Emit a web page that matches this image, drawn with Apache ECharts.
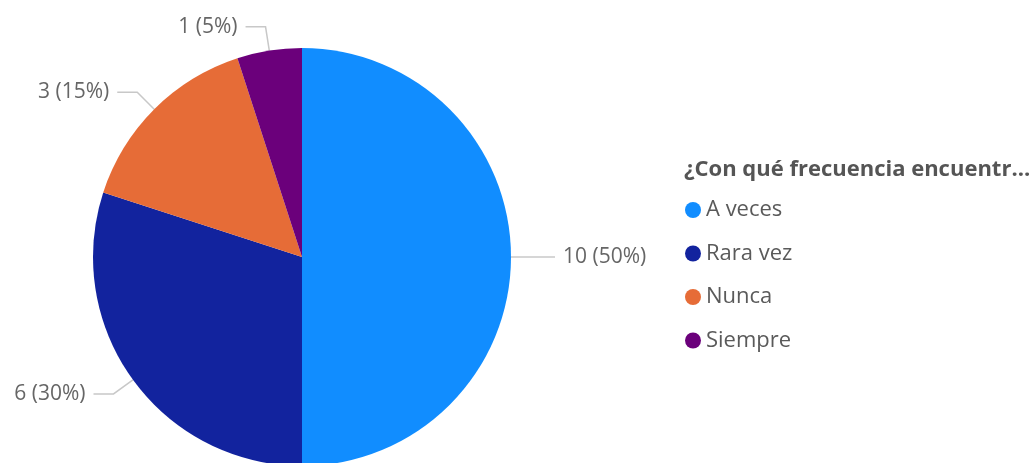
<!DOCTYPE html>
<html>
<head>
<meta charset="utf-8">
<script src="https://cdn.jsdelivr.net/npm/echarts@6/dist/echarts.min.js"></script>
<style>
  html, body { margin: 0; padding: 0; background: #ffffff; }
  #chart { width: 1034px; height: 463px; }
</style>
</head>
<body>
<div id="chart"></div>
<script>
// Survey answers and how many people gave each one
const legendTitle = '¿Con qué frecuencia encuentr...';
const categories = ['A veces', 'Rara vez', 'Nunca', 'Siempre'];
const counts = [10, 6, 3, 1];
const colors = ['#118DFF', '#12239E', '#E66C37', '#6B007B'];

const fontFamily = '"Segoe UI", "Open Sans", "Noto Sans", sans-serif';

const chart = echarts.init(document.getElementById('chart'), null, { renderer: 'canvas' });

chart.setOption({
  animation: false,
  color: colors,
  title: {
    text: legendTitle,
    left: 679,
    top: 154,
    textStyle: {
      fontFamily: fontFamily,
      fontSize: 22,
      fontWeight: 'bold',
      color: '#555555'
    }
  },
  legend: {
    orient: 'vertical',
    left: 685,
    top: 199,
    padding: 0,
    icon: 'circle',
    itemWidth: 16,
    itemHeight: 16,
    itemGap: 21.5,
    data: categories,
    textStyle: {
      fontFamily: fontFamily,
      fontSize: 22,
      lineHeight: 22,
      color: '#5a5a5a'
    }
  },
  series: [{
    type: 'pie',
    center: [302, 257],
    radius: 209,
    startAngle: 90,
    clockwise: true,
    avoidLabelOverlap: false,
    data: categories.map((name, i) => ({ name: name, value: counts[i] })),
    label: {
      show: true,
      position: 'outside',
      formatter: '{c} ({d}%)',
      fontFamily: fontFamily,
      fontSize: 21,
      color: '#666666',
      distanceToLabelLine: 8
    },
    labelLine: {
      show: true,
      length: 24,
      length2: 20,
      lineStyle: { color: '#c8c8c8', width: 1.5 }
    },
    itemStyle: { borderWidth: 0 },
    emphasis: { disabled: true }
  }]
});
</script>
</body>
</html>
